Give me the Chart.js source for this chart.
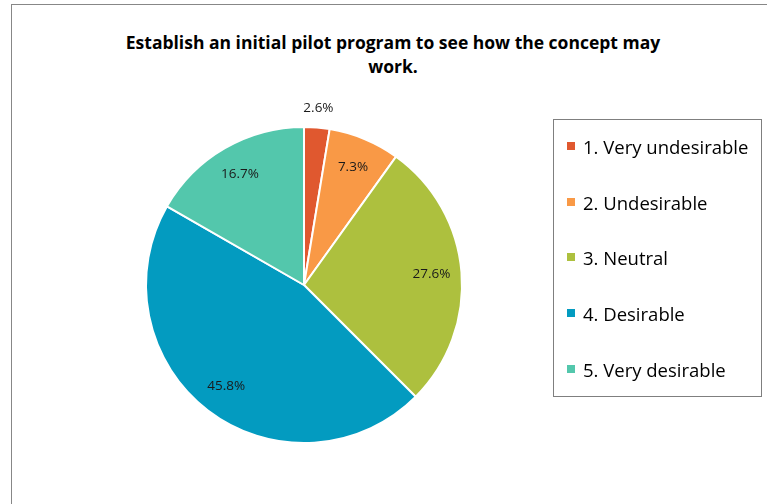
<!DOCTYPE html>
<html>
<head>
<meta charset="utf-8">
<script src="https://cdn.jsdelivr.net/npm/chart.js@4/dist/chart.umd.min.js"></script>
<style>
    html, body { margin: 0; padding: 0; width: 767px; height: 504px; overflow: hidden; background: #fff; }
    body { position: relative; font-family: "Open Sans", Lato, sans-serif; color: #000; }
    .frame { position: absolute; left: 11px; top: 4px; width: 800px; height: 540px; border: 1px solid #878787; }
    .title { position: absolute; left: 12px; width: 762px; top: 30px; text-align: center; font-weight: bold; font-size: 17.5px; line-height: 24px; }
    #chart { position: absolute; left: 0; top: 0; }
    .legend { position: absolute; left: 553px; top: 119px; width: 207px; height: 276px; border: 1px solid #7f7f7f; }
    .legend-item { position: absolute; left: 13px; height: 20px; display: flex; align-items: center; font-size: 18.5px; white-space: nowrap; }
    .legend-swatch { width: 8px; height: 8px; margin-right: 8px; display: inline-block; }
</style>
</head>
<body>
<div class="frame"></div>
<div class="title">Establish an initial pilot program to see how the concept may<br>work.</div>
<canvas id="chart" width="767" height="504"></canvas>
<div class="legend" id="legend"></div>
<script>
    // Data
    const categories = ["1. Very undesirable", "2. Undesirable", "3. Neutral", "4. Desirable", "5. Very desirable"];
    const percentValues = [2.6, 7.3, 27.6, 45.8, 16.7];
    const sliceColors = ["#E0582F", "#F99946", "#ADC03E", "#039BC0", "#53C7AC"];

    const el = (tag, attrs = {}, ...children) => {
        const node = document.createElement(tag);
        Object.entries(attrs).forEach(([k, v]) => {
            if (k === "class") node.className = v;
            else if (k === "style") Object.assign(node.style, v);
            else node.setAttribute(k, v);
        });
        children.flat().forEach(c => node.append(typeof c === "string" ? document.createTextNode(c) : c));
        return node;
    };

    // percent labels inside the slices (small ones pushed outside)
    const sliceLabels = {
        id: "sliceLabels",
        afterDatasetsDraw(chart) {
            const ctx = chart.ctx;
            const meta = chart.getDatasetMeta(0);
            ctx.save();
            ctx.font = "13.5px 'Open Sans', Lato, sans-serif";
            ctx.fillStyle = "#1a1a1a";
            ctx.textAlign = "center";
            ctx.textBaseline = "middle";
            meta.data.forEach((arc, i) => {
                const { x, y, startAngle, endAngle, outerRadius } = arc.getProps(["x", "y", "startAngle", "endAngle", "outerRadius"], true);
                const mid = (startAngle + endAngle) / 2;
                const v = chart.data.datasets[0].data[i];
                const f = v < 5 ? 1.12 : 0.81;
                ctx.fillText(v.toFixed(1) + "%", x + Math.cos(mid) * outerRadius * f, y + Math.sin(mid) * outerRadius * f);
            });
            ctx.restore();
        }
    };

    const chart = new Chart(document.getElementById("chart"), {
        type: "pie",
        data: {
            labels: categories,
            datasets: [{
                data: percentValues,
                backgroundColor: sliceColors,
                borderColor: "#ffffff",
                borderWidth: 2,
                hoverOffset: 0
            }]
        },
        options: {
            responsive: false,
            animation: false,
            radius: 158,
            layout: { padding: { left: 0, right: 159, top: 100, bottom: 34 } },
            plugins: {
                legend: { display: false },
                tooltip: { enabled: false },
                title: { display: false }
            }
        },
        plugins: [sliceLabels]
    });

    // legend built from the chart's own data
    const legend = document.getElementById("legend");
    const itemTops = [16, 72, 127, 183, 239];
    chart.data.labels.forEach((label, i) => {
        legend.append(el("div", { class: "legend-item", style: { top: itemTops[i] + "px" } },
            el("span", { class: "legend-swatch", style: { background: chart.data.datasets[0].backgroundColor[i] } }),
            el("span", {}, label)
        ));
    });
</script>
</body>
</html>
